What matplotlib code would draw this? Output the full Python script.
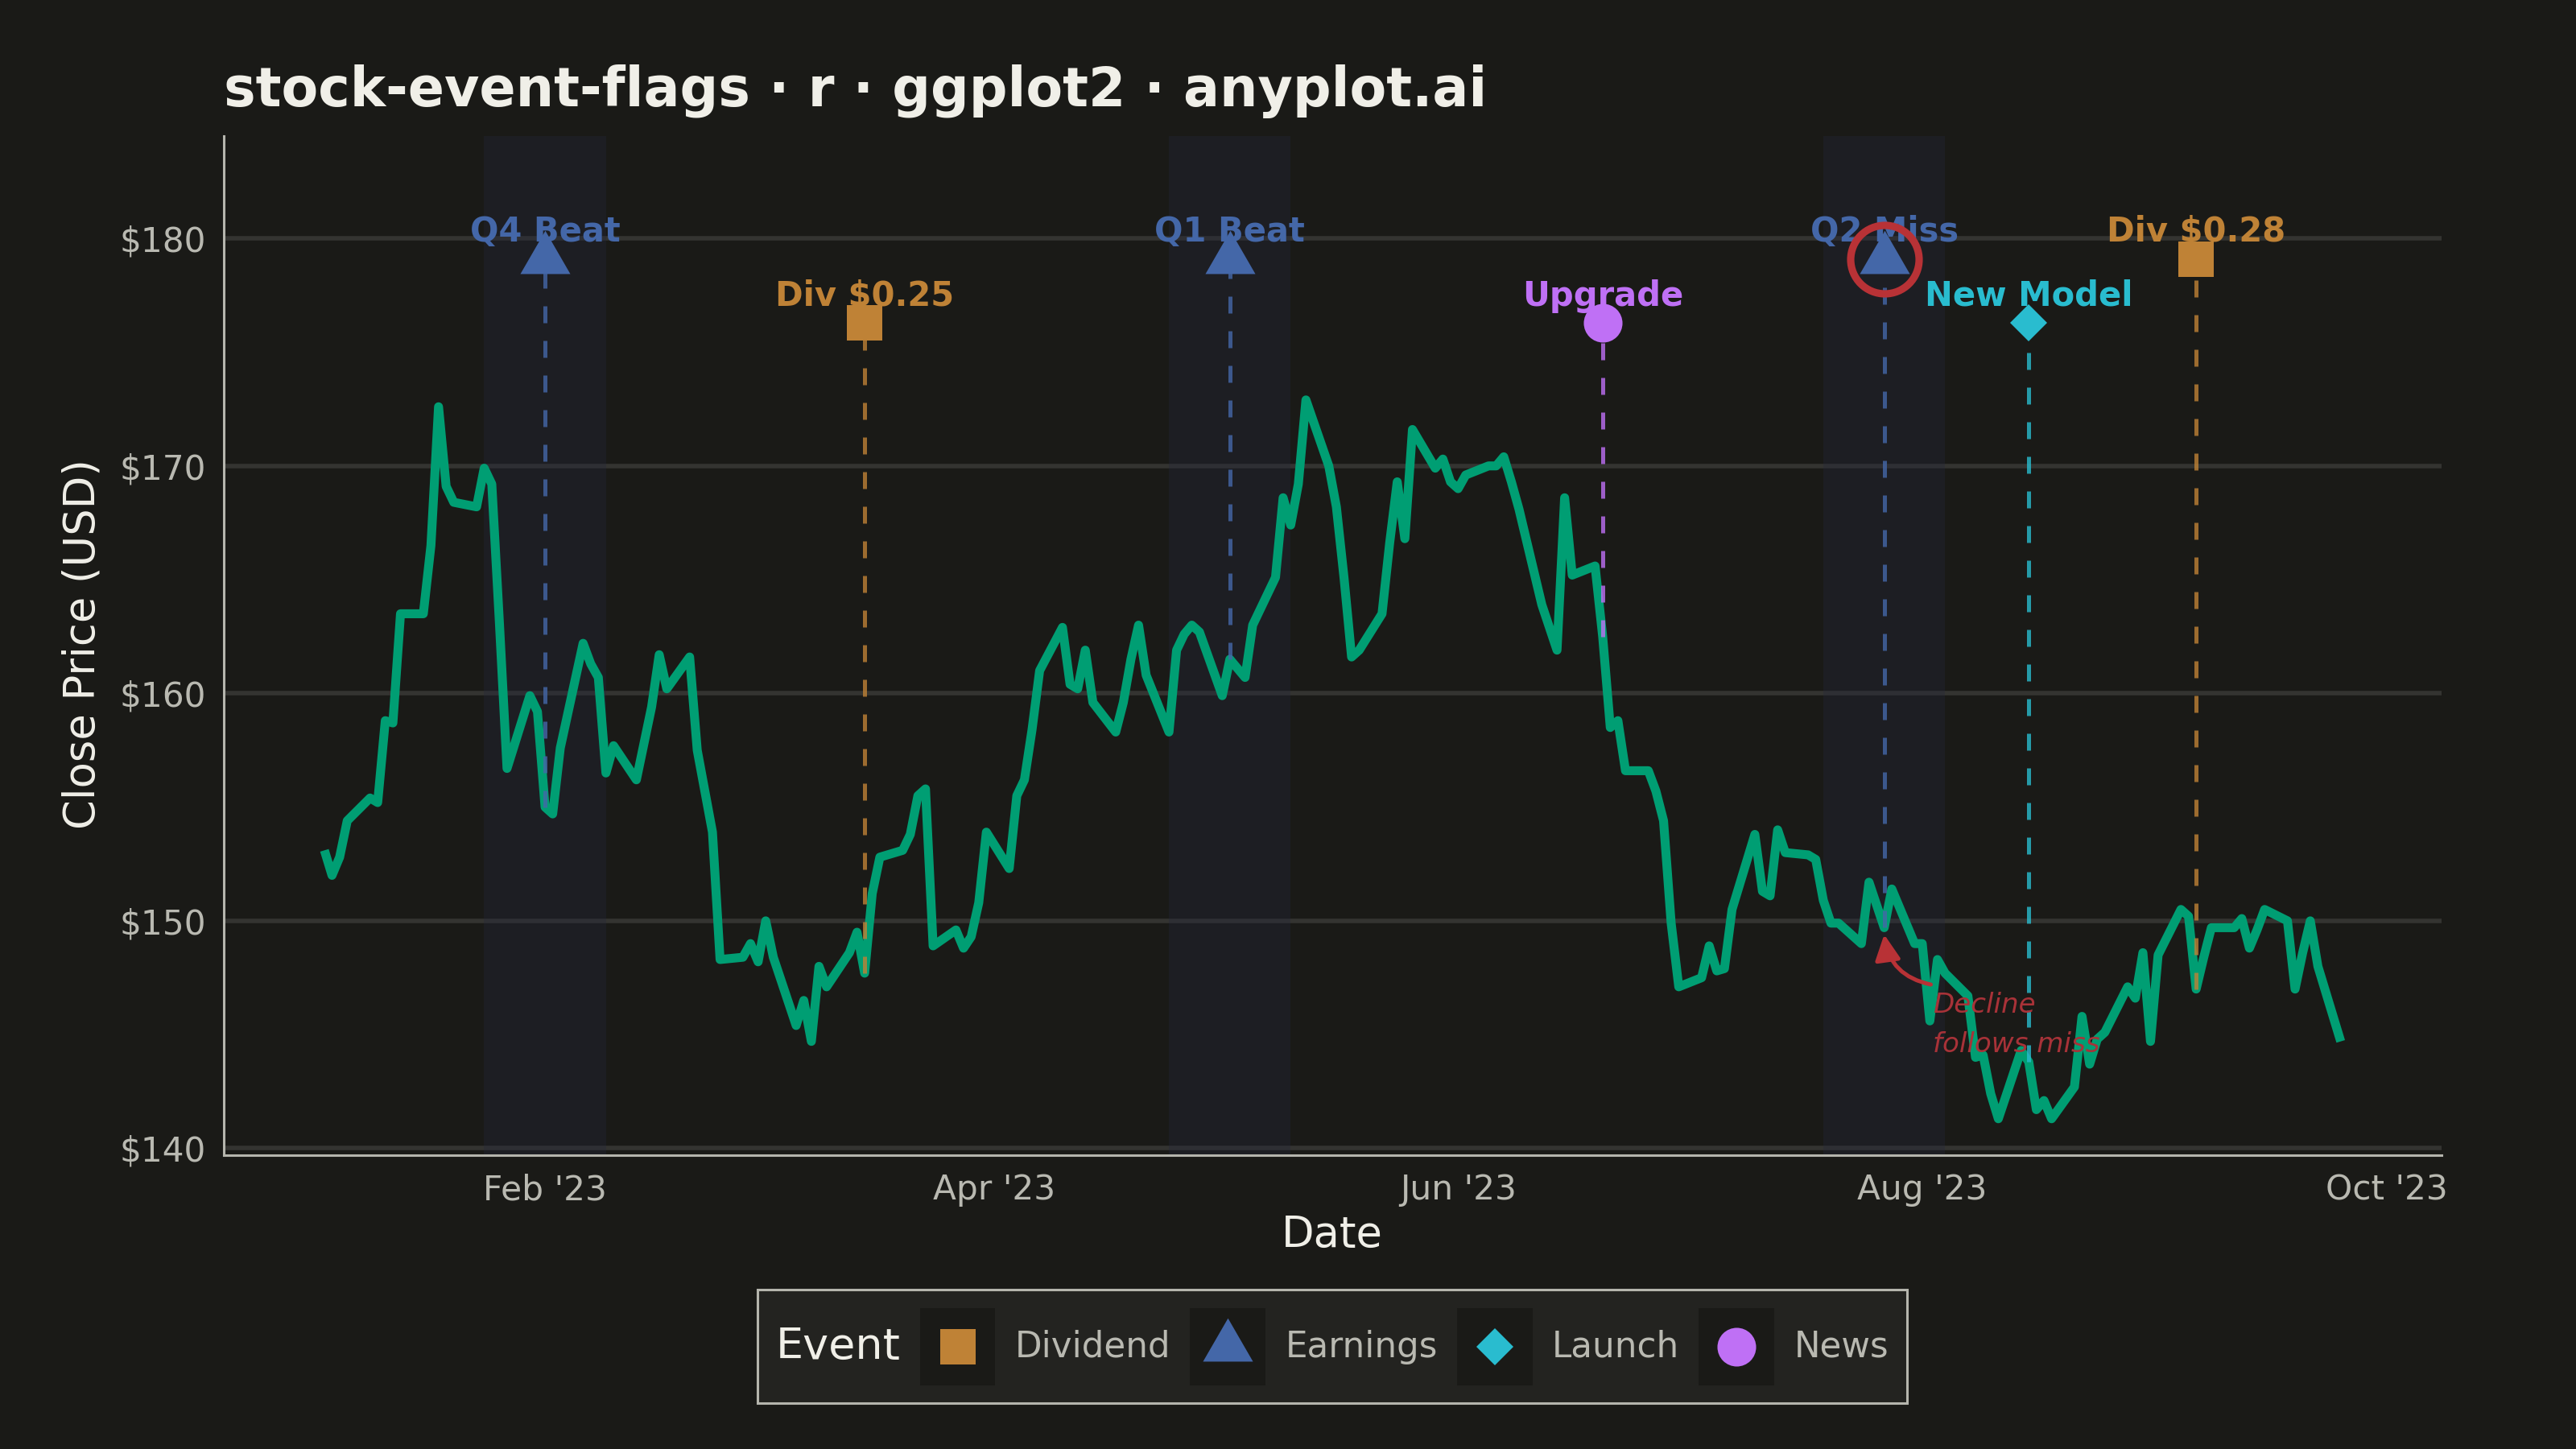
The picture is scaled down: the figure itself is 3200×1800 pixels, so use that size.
import pandas as pd
import matplotlib
matplotlib.use("Agg")
import matplotlib.pyplot as plt
import matplotlib.dates as mdates
from matplotlib.path import Path
from matplotlib.patches import Rectangle
from matplotlib.lines import Line2D
from matplotlib.legend_handler import HandlerBase
from matplotlib.offsetbox import HPacker
from matplotlib.ticker import FuncFormatter

BG = "#1A1A17"
INK = "#F0EFE8"
INK_SOFT = "#B9B9B1"
GRID = "#343431"
LINE_GREEN = "#009E73"
RED = "#B83236"

# daily closes, business days 2023-01-03 .. 2023-09-25
dates = pd.bdate_range("2023-01-03", "2023-09-25")
close = [
    # Jan
    153.1, 152.0, 152.8, 154.4, 155.4, 155.2, 158.8, 158.7, 163.5, 163.5, 166.5,
    172.6, 169.1, 168.4, 168.2, 169.9, 169.2, 163.1, 156.7, 159.9, 159.2,
    # Feb
    155.0, 154.7, 157.6, 162.2, 161.3, 160.7, 156.5, 157.7, 156.2, 157.8,
    159.4, 161.7, 160.2, 161.6, 157.5, 155.7, 153.9, 148.3, 148.4, 149.0,
    # Mar
    148.2, 150.0, 148.4, 145.4, 146.5, 144.7, 148.0, 147.1, 148.6, 149.5, 147.7,
    151.2, 152.8, 153.1, 153.8, 155.5, 155.8, 148.9, 149.6, 148.8, 149.3, 150.8, 153.9,
    # Apr
    152.3, 155.5, 156.2, 158.4, 161.0, 162.9, 160.4, 160.2, 161.9, 159.6,
    158.3, 159.6, 161.5, 163.0, 160.8, 158.3, 161.9, 162.6, 163.0, 162.7,
    # May
    159.9, 161.5, 161.1, 160.7, 163.0, 165.1, 168.6, 167.4, 169.2, 172.9, 170.0, 168.2,
    165.1, 161.6, 161.9, 163.5, 166.6, 169.3, 166.8, 171.6, 169.9, 170.3, 169.3,
    # Jun
    169.0, 169.6, 170.0, 170.0, 170.4, 169.3, 168.1, 163.9, 162.9, 161.9, 168.6,
    165.2, 165.6, 162.5, 158.5, 158.8, 156.6, 156.6, 155.7, 154.4, 149.9, 147.1,
    # Jul
    147.5, 148.9, 147.8, 147.9, 150.5, 153.8, 151.3, 151.1, 154.0, 153.0, 152.9,
    152.7, 150.9, 149.9, 149.9, 149.0, 151.7, 150.7, 149.7, 151.4, 149.0,
    # Aug
    149.0, 145.6, 148.3, 147.7, 146.7, 144.0, 144.1, 142.4, 141.3, 144.3, 143.8, 141.7,
    142.1, 141.3, 142.7, 145.8, 143.7, 144.8, 145.1, 147.1, 146.6, 148.6, 144.7,
    # Sep
    148.5, 150.5, 150.2, 147.0, 148.4, 149.7, 149.7, 150.1, 148.8, 149.6, 150.5,
    150.0, 147.0, 148.6, 150.0, 148.0, 144.7,
]
prices = pd.Series(close, index=dates)

event_dates = ["2023-02-01", "2023-03-15", "2023-05-02", "2023-06-20",
               "2023-07-27", "2023-08-15", "2023-09-06"]
event_types = ["Earnings", "Dividend", "Earnings", "News",
               "Earnings", "Launch", "Dividend"]
event_labels = ["Q4 Beat", "Div $0.25", "Q1 Beat", "Upgrade",
                "Q2 Miss", "New Model", "Div $0.28"]
flag_y = [179.1, 176.3, 179.1, 176.3, 179.1, 176.3, 179.1]

legend_types = ["Dividend", "Earnings", "Launch", "News"]
type_colors = {"Dividend": "#BF8236", "Earnings": "#4467A8",
               "Launch": "#29BCCF", "News": "#BF70F5"}

# ggplot-like triangle, centred on its centroid
tri = Path([(0, 0.577), (-0.5, -0.289), (0.5, -0.289), (0, 0.577)],
           [Path.MOVETO, Path.LINETO, Path.LINETO, Path.CLOSEPOLY])
type_markers = {"Dividend": ("s", 15.8), "Earnings": (tri, 25.8),
                "Launch": ("D", 11.5), "News": ("o", 17.3)}


class KeyHandler(HandlerBase):
    # dark key square with the marker centred on it
    def create_artists(self, legend, orig_handle, xdescent, ydescent,
                       width, height, fontsize, trans):
        rect = Rectangle((-xdescent, -ydescent), width, height,
                         facecolor=BG, edgecolor="none", transform=trans)
        dot = Line2D([width / 2 - xdescent], [height / 2 - ydescent],
                     linestyle="none", marker=orig_handle.get_marker(),
                     markersize=orig_handle.get_markersize(),
                     color=orig_handle.get_color(), markeredgewidth=0,
                     transform=trans)
        return [rect, dot]


fig = plt.figure(figsize=(16, 9), dpi=200, facecolor=BG)
ax = fig.add_axes([0.0868, 0.2028, 0.861, 0.7033], facecolor=BG)

# earnings windows
for d, t in zip(event_dates, event_types):
    if t == "Earnings":
        d = pd.Timestamp(d)
        ax.axvspan(d - pd.Timedelta(days=8), d + pd.Timedelta(days=8),
                   color="#23283A", alpha=0.35, lw=0, zorder=0.6)

ax.plot(prices.index, prices.values, color=LINE_GREEN, lw=4.0,
        solid_joinstyle="round", solid_capstyle="butt", zorder=2)

for d, t, lab, fy in zip(event_dates, event_types, event_labels, flag_y):
    d = pd.Timestamp(d)
    col = type_colors[t]
    ln, = ax.plot([d, d], [prices[d], fy - 0.6], color=col, lw=1.8,
                  alpha=0.8, zorder=3)
    ln.set_dashes((4.2, 4.4))
    m, ms = type_markers[t]
    ax.plot(d, fy, linestyle="none", marker=m, markersize=ms, color=col,
            markeredgewidth=0, zorder=4)
    ax.text(d, fy + 0.75, lab, color=col, fontsize=15, fontweight="bold",
            ha="center", va="baseline", zorder=5)

# highlight the miss
miss = pd.Timestamp("2023-07-27")
ax.plot(miss, 179.1, linestyle="none", marker="o", markersize=30.6,
        markerfacecolor="none", markeredgecolor=RED, markeredgewidth=3.3,
        zorder=6)
ax.annotate("", xy=(miss, 149.4), xytext=(pd.Timestamp("2023-08-02 03:00"), 147.2),
            arrowprops=dict(arrowstyle="-|>", color=RED, lw=1.8,
                            mutation_scale=24,
                            connectionstyle="arc3,rad=-0.35",
                            shrinkA=0, shrinkB=0),
            zorder=6)
ax.text(pd.Timestamp("2023-08-02 09:00"), 146.9, "Decline\nfollows miss",
        color="#A83238", fontsize=12.3, style="italic", ha="left", va="top",
        linespacing=1.62, zorder=6)

ax.set_xlim(dates[0] - pd.Timedelta(days=13.25), dates[-1] + pd.Timedelta(days=13.25))
ax.set_ylim(139.7, 184.5)
ax.set_yticks([140, 150, 160, 170, 180])
ax.yaxis.set_major_formatter(FuncFormatter(lambda v, p: f"${v:.0f}"))
ax.xaxis.set_major_locator(mdates.MonthLocator(bymonth=[2, 4, 6, 8, 10]))
ax.xaxis.set_major_formatter(mdates.DateFormatter("%b '%y"))

ax.set_axisbelow(True)
ax.yaxis.grid(True, color=GRID, lw=2.0)
ax.xaxis.grid(False)
ax.tick_params(length=0, labelsize=15.2, labelcolor=INK_SOFT, pad=8)
for s in ["top", "right"]:
    ax.spines[s].set_visible(False)
for s in ["left", "bottom"]:
    ax.spines[s].set_color("#B5B5AD")
    ax.spines[s].set_linewidth(1.1)

fig.text(0.0868, 0.9267, "stock-event-flags · r · ggplot2 · anyplot.ai",
         fontsize=24, fontweight="bold", color=INK, ha="left", va="baseline")
fig.text(0.5172, 0.1394, "Date", fontsize=19, color=INK, ha="center", va="baseline")
fig.text(0.0319, 0.5556, "Close Price (USD)", fontsize=19, color=INK,
         rotation=90, ha="center", va="center")

# legend with title on the left
handles = []
for t in legend_types:
    m, ms = type_markers[t]
    handles.append(Line2D([], [], linestyle="none", marker=m, markersize=ms,
                          color=type_colors[t]))

leg = fig.legend(handles, legend_types, handler_map={Line2D: KeyHandler()},
                 loc="center", bbox_to_anchor=(0.5172, 0.0706), ncol=4,
                 fontsize=15.7, title="Event", title_fontsize=19.5,
                 handlelength=2.15, handleheight=3.0, handletextpad=0.56,
                 columnspacing=0.55, borderpad=0.52, frameon=True,
                 fancybox=False, facecolor="#232320", edgecolor="#B5B5AD",
                 framealpha=1)
leg.get_frame().set_linewidth(1.1)
leg.get_title().set_color(INK)
for txt in leg.get_texts():
    txt.set_color(INK_SOFT)

box = HPacker(pad=leg.borderpad * leg._fontsize, sep=8.6, align="center",
              children=[leg._legend_title_box, leg._legend_handle_box])
box.set_figure(fig)
leg._legend_box = box
box.set_offset(leg._findoffset)

fig.savefig("out.png", dpi=200, facecolor=BG)
